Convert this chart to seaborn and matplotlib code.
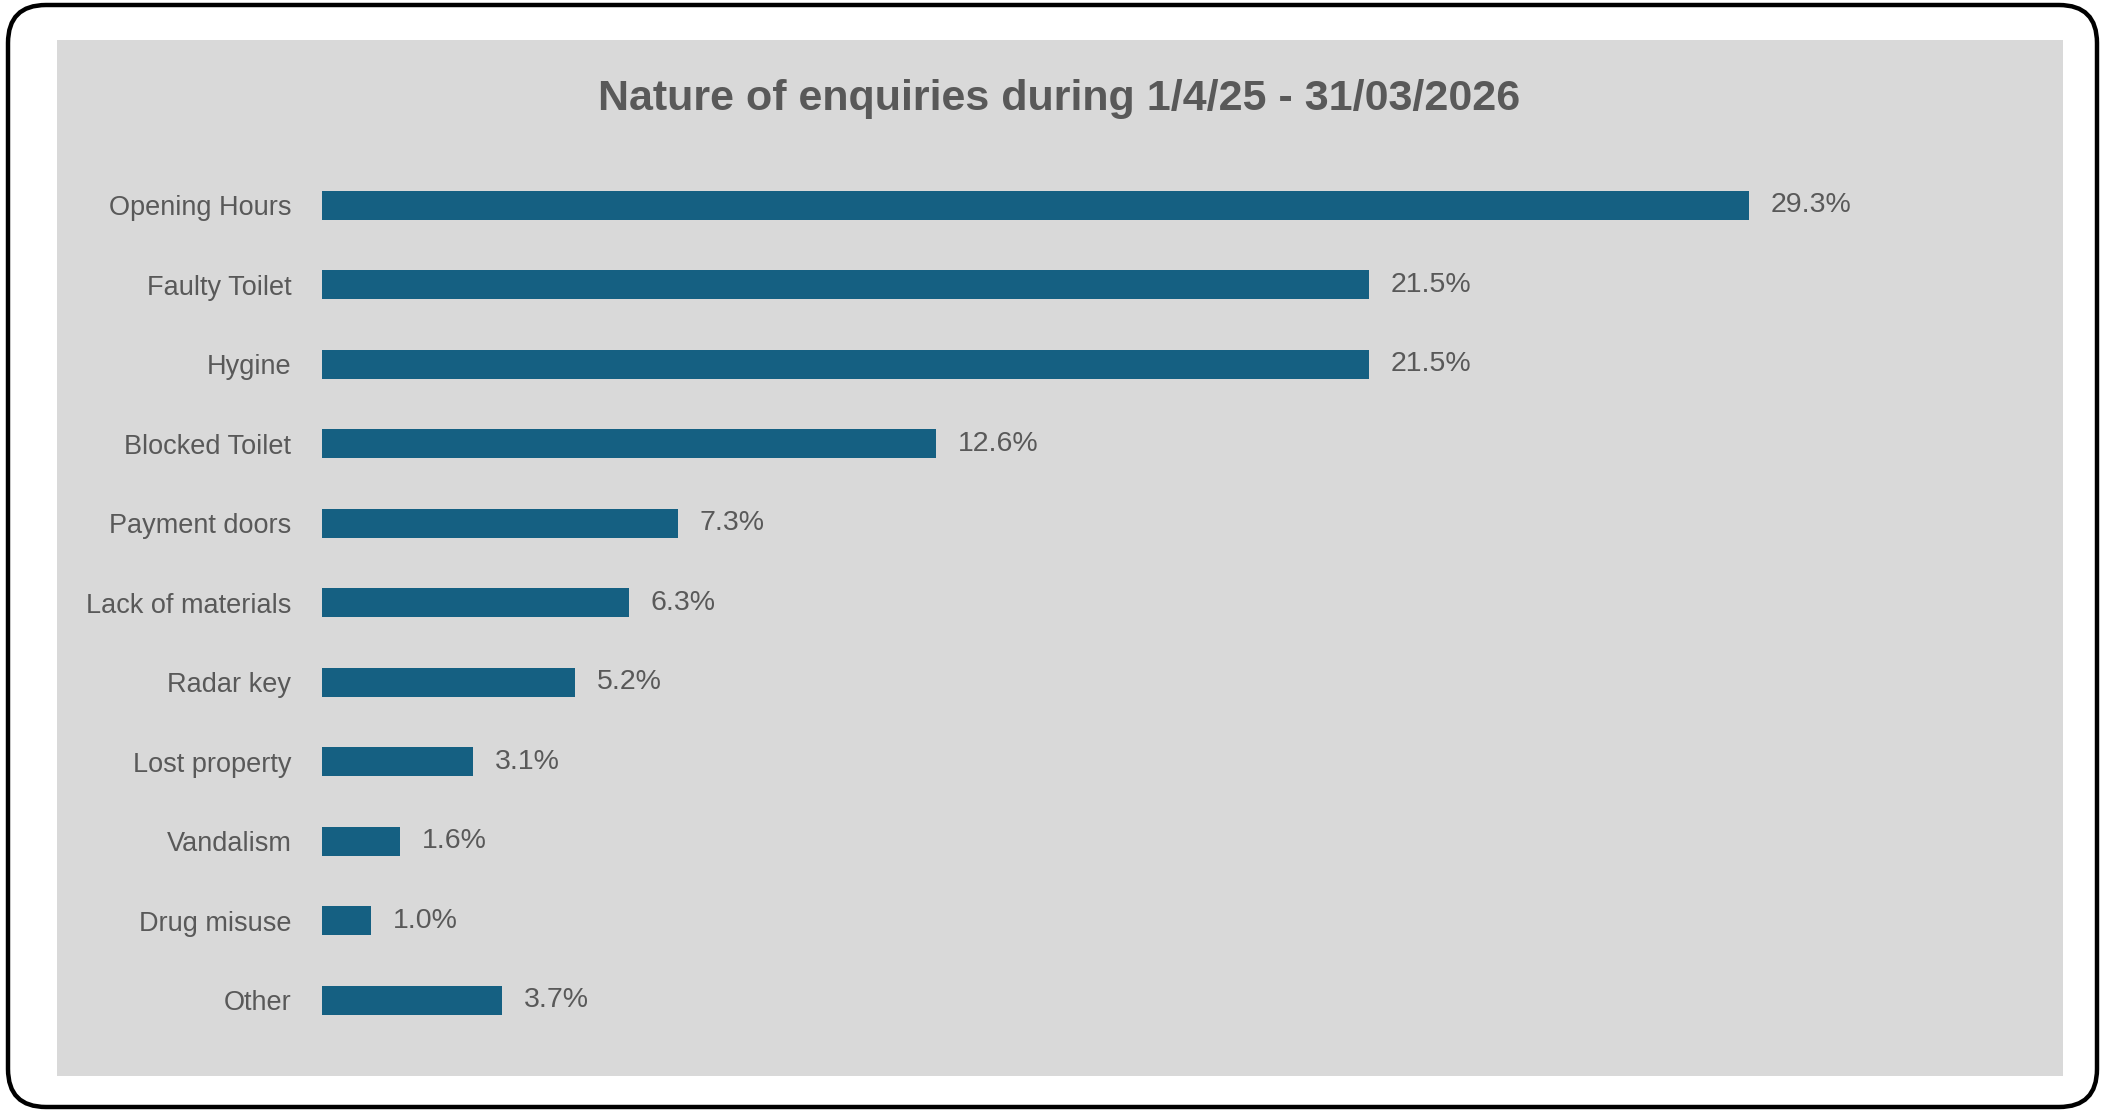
import matplotlib
matplotlib.use("Agg")
import matplotlib.pyplot as plt
from matplotlib.patches import FancyBboxPatch, Rectangle
import seaborn as sns
import pandas as pd

categories = ["Opening Hours", "Faulty Toilet", "Hygine", "Blocked Toilet", "Payment doors",
              "Lack of materials", "Radar key", "Lost property", "Vandalism", "Drug misuse", "Other"]
values = [29.3, 21.5, 21.5, 12.6, 7.3, 6.3, 5.2, 3.1, 1.6, 1.0, 3.7]
title = "Nature of enquiries during 1/4/25 - 31/03/2026"

sns.set_theme(style="white")
plt.rcParams["font.family"] = ["Liberation Sans", "DejaVu Sans"]

W, H = 2101, 1111
fig = plt.figure(figsize=(W / 100, H / 100), dpi=100)
fig.patch.set_facecolor("white")

# outer rounded border
bx0, by0, bx1, by1 = 8, 5, 2097, 1107
border = FancyBboxPatch((bx0 / W, 1 - by1 / H), (bx1 - bx0) / W, (by1 - by0) / H,
                        boxstyle="round,pad=0,rounding_size=%f" % (38 / W),
                        mutation_aspect=W / H, transform=fig.transFigure,
                        facecolor="white", edgecolor="black", linewidth=3.2, zorder=0)
fig.patches.append(border)
# grey chart area
gx0, gy0, gx1, gy1 = 57, 40, 2063, 1076
fig.patches.append(Rectangle((gx0 / W, 1 - gy1 / H), (gx1 - gx0) / W, (gy1 - gy0) / H,
                             transform=fig.transFigure, facecolor="#d9d9d9",
                             edgecolor="none", zorder=1))

ax_left, ax_right = 322, 1900
ax_top, ax_bot = 165.5, 1040
ax = fig.add_axes([ax_left / W, 1 - ax_bot / H, (ax_right - ax_left) / W, (ax_bot - ax_top) / H])
ax.set_facecolor("none")
ax.set_zorder(2)

df = pd.DataFrame({"cat": categories, "val": values})
sns.barplot(data=df, x="val", y="cat", color="#156082", saturation=1, width=0.36,
            linewidth=0, ax=ax)
ax.set_xlim(0, (ax_right - ax_left) / 48.7)
ax.set_ylim(len(categories) - 0.5, -0.5)
ax.set_xlabel("")
ax.set_ylabel("")
ax.set_xticks([])
for s in ax.spines.values():
    s.set_visible(False)
ax.tick_params(axis="y", length=0, pad=22, labelsize=19.5, labelcolor="#595959")

for i, v in enumerate(values):
    ax.annotate(f"{v:.1f}%", (v, i), xytext=(22, 0), textcoords="offset pixels",
                va="center", ha="left", fontsize=20.5, color="#595959")

fig.text(1059 / W, 1 - 99 / H, title, ha="center", va="center", fontsize=31,
         fontweight="bold", color="#595959")

fig.savefig("out.png", dpi=100)
